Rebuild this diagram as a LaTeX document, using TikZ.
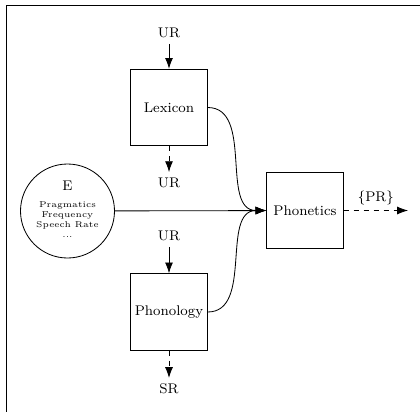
\documentclass[tikz,border=0pt]{standalone}
\usetikzlibrary{arrows.meta}
\begin{document}
\begin{tikzpicture}[x=0.6pt,y=-0.6pt,line width=0.5pt,
  every node/.style={font=\fontsize{8.4}{10}\selectfont},
  box/.style={draw,minimum width=76.5*0.6pt,minimum height=76.5*0.6pt,inner sep=0pt},
  arr/.style={-{Latex[length=6.5pt,width=4.8pt]}},
  darr/.style={arr,dashed}]
\useasboundingbox (0,0) rectangle (420,412);
\draw (420,5.5) -- (6.5,5.5) -- (6.5,412);
\node[box] (lex) at (169,107.5) {Lexicon};
\node[box] (phon) at (169,312) {Phonology};
\node[box] (phx) at (305,210.5) {Phonetics};
\node[draw,circle,minimum size=94*0.6pt,inner sep=0pt] (E) at (67.5,211) {};
\node (Et) at (67.5,186) {E};
\node[font=\fontsize{5.1}{5.9}\selectfont,align=center] (Es) at (67.5,219.5) {Pragmatics\\Frequency\\Speech Rate\\...};
\node (ur1) at (169,33) {UR};
\node (ur2) at (169,183) {UR};
\node (ur3) at (169,236) {UR};
\node (sr) at (169,389) {SR};
\coordinate (pr) at (408,210.5);
\draw[arr] (ur1) -- (lex);
\draw[darr] (lex) -- (ur2);
\draw[arr] (ur3) -- (phon);
\draw[darr] (phon) -- (sr);
\draw[arr] (E) -- (phx);
\draw[arr] (lex.east) to[out=0,in=180] (phx.west);
\draw[arr] (phon.east) to[out=0,in=180] (phx.west);
\draw[darr] (phx) -- node[above] (prl) {\{PR\}} (pr);
\end{tikzpicture}
\end{document}
